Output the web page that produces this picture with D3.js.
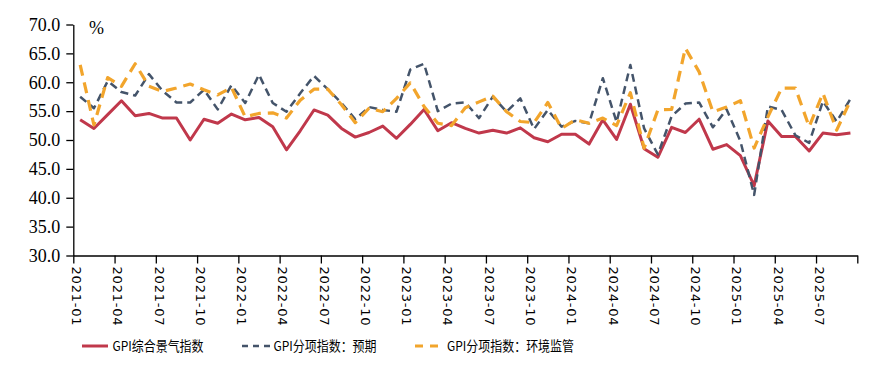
<!DOCTYPE html>
<html><head><meta charset="utf-8">
<script src="https://cdn.jsdelivr.net/npm/d3@7/dist/d3.min.js"></script>
<style>body{margin:0;background:#fff;} svg{display:block}</style>
</head><body>
<svg id="chart" width="894" height="368"></svg>
<script>
// ---- data ----
const months = [
 "2021-01","2021-02","2021-03","2021-04","2021-05","2021-06","2021-07","2021-08","2021-09","2021-10","2021-11","2021-12",
 "2022-01","2022-02","2022-03","2022-04","2022-05","2022-06","2022-07","2022-08","2022-09","2022-10","2022-11","2022-12",
 "2023-01","2023-02","2023-03","2023-04","2023-05","2023-06","2023-07","2023-08","2023-09","2023-10","2023-11","2023-12",
 "2024-01","2024-02","2024-03","2024-04","2024-05","2024-06","2024-07","2024-08","2024-09","2024-10","2024-11","2024-12",
 "2025-01","2025-02","2025-03","2025-04","2025-05","2025-06","2025-07","2025-08","2025-09"
];
const axisEnd = "2025-10";
const tickLabels = ["2021-01","2021-04","2021-07","2021-10","2022-01","2022-04","2022-07","2022-10",
 "2023-01","2023-04","2023-07","2023-10","2024-01","2024-04","2024-07","2024-10","2025-01","2025-04","2025-07"];
const yTicks = [30,35,40,45,50,55,60,65,70];

const seriesNames = ["GPI综合景气指数","GPI分项指数：预期","GPI分项指数：环境监管"];
const composite = [53.5,52.0,54.4,56.8,54.2,54.6,53.8,53.8,50.0,53.6,52.9,54.5,
 53.5,53.9,52.3,48.3,51.6,55.2,54.3,52.0,50.5,51.3,52.4,50.3,
 52.7,55.3,51.6,53.0,52.0,51.2,51.7,51.2,52.1,50.4,49.7,51.0,
 51.0,49.3,53.5,50.1,56.2,48.5,47.0,52.2,51.3,53.6,48.4,49.2,
 47.3,42.1,53.3,50.6,50.6,48.1,51.2,50.9,51.2];
const expectation = [57.5,55.5,60.2,58.3,57.7,61.4,58.5,56.5,56.5,58.7,55.3,59.5,
 56.4,61.3,56.4,54.9,58.1,61.1,58.8,56.4,53.6,55.7,55.2,54.9,
 62.2,63.2,55.0,56.3,56.5,53.8,57.5,54.9,57.2,51.9,55.2,52.3,
 53.3,52.9,60.7,53.1,63.0,52.0,47.5,54.1,56.3,56.5,52.2,55.3,
 49.8,40.5,55.8,55.2,50.8,49.5,56.7,53.2,57.1];
const regulation = [63.0,52.6,60.8,59.3,63.2,59.3,58.4,59.0,59.7,58.7,57.8,59.1,
 54.0,54.6,54.7,53.8,56.9,58.8,58.8,56.1,53.0,55.5,54.9,57.2,
 59.9,55.8,52.9,52.5,55.6,56.6,57.6,54.9,53.2,53.0,56.5,52.0,
 53.5,52.9,53.8,52.5,58.2,48.6,55.2,55.3,65.9,61.8,54.9,55.7,
 56.8,48.6,54.0,59.0,59.0,52.3,58.1,51.7,56.8];

// ---- layout ----
const svg = d3.select("#chart");
const X0 = 73.3, X1 = 857.3, YT = 24.5, YB = 255.5;
const xb = d3.scalePoint().domain([...months, axisEnd]).range([X0, X1]);
const step = xb.step();
const px = i => xb(months[i]) + step / 2;
const y = d3.scaleLinear().domain([30, 70]).range([YB, YT]);

// y axis
const gy = svg.append("g").attr("transform", `translate(${X0},0)`)
  .call(d3.axisLeft(y).tickValues(yTicks).tickFormat(d3.format(".1f")).tickSize(7).tickPadding(6).tickSizeOuter(0));
gy.select(".domain").attr("stroke", "#000").attr("stroke-width", 1.3);
gy.selectAll(".tick line").attr("stroke", "#000").attr("stroke-width", 1.3);
gy.selectAll("text").attr("font-family", "'Liberation Serif','Times New Roman',serif")
  .attr("font-size", 18).attr("fill", "#000");

// x axis
const gx = svg.append("g").attr("transform", `translate(0,${YB})`)
  .call(d3.axisBottom(xb).tickValues([...tickLabels, axisEnd]).tickFormat(d => d === axisEnd ? "" : d)
    .tickSize(8).tickSizeOuter(0));
gx.select(".domain").attr("stroke", "#000").attr("stroke-width", 1.3);
gx.selectAll(".tick line").attr("stroke", "#000").attr("stroke-width", 1.3);
gx.selectAll("text")
  .attr("font-family", "'DejaVu Sans',Verdana,sans-serif").attr("font-size", 13)
  .attr("letter-spacing", "0.8px").attr("fill", "#000")
  .attr("transform", "rotate(90)").attr("text-anchor", "start")
  .attr("x", 11).attr("y", -3).attr("dy", "0.36em");

// "%" unit
svg.append("text").attr("x", 89).attr("y", 34)
  .attr("font-family", "'Liberation Serif','Times New Roman',serif").attr("font-size", 18).text("%");

// lines
const colors = ["#C0384B", "#44546A", "#F2A52C"];
const widths = [3, 2.5, 3.2];
const dashes = [null, "8,5", "11,7"];
const data = [composite, expectation, regulation];
const line = d3.line().x((d, i) => px(i)).y(d => y(d));
data.forEach((s, k) => {
  svg.append("path").datum(s).attr("d", line).attr("fill", "none")
    .attr("stroke", colors[k]).attr("stroke-width", widths[k])
    .attr("stroke-linejoin", "round")
    .attr("stroke-dasharray", dashes[k]);
});

// legend
const legend = [
  {x1: 82, x2: 108, tx: 112.5, tl: 91, dash: null},
  {x1: 242, x2: 272, tx: 273.5, tl: 103, dash: "6,5"},
  {x1: 415, x2: 438, tx: 447, tl: 127, dash: "8,7"}
];
const LY = 346;
legend.forEach((l, k) => {
  svg.append("line").attr("x1", l.x1).attr("x2", l.x2).attr("y1", LY).attr("y2", LY)
    .attr("stroke", colors[k]).attr("stroke-width", widths[k]).attr("stroke-dasharray", l.dash);
  svg.append("text").attr("x", l.tx).attr("y", LY).attr("dy", "0.36em")
    .attr("font-family", "'Noto Sans CJK SC',sans-serif").attr("font-size", 13.5).attr("fill", "#000")
    .attr("textLength", l.tl).attr("lengthAdjust", "spacingAndGlyphs")
    .text(seriesNames[k]);
});
</script>
</body></html>
